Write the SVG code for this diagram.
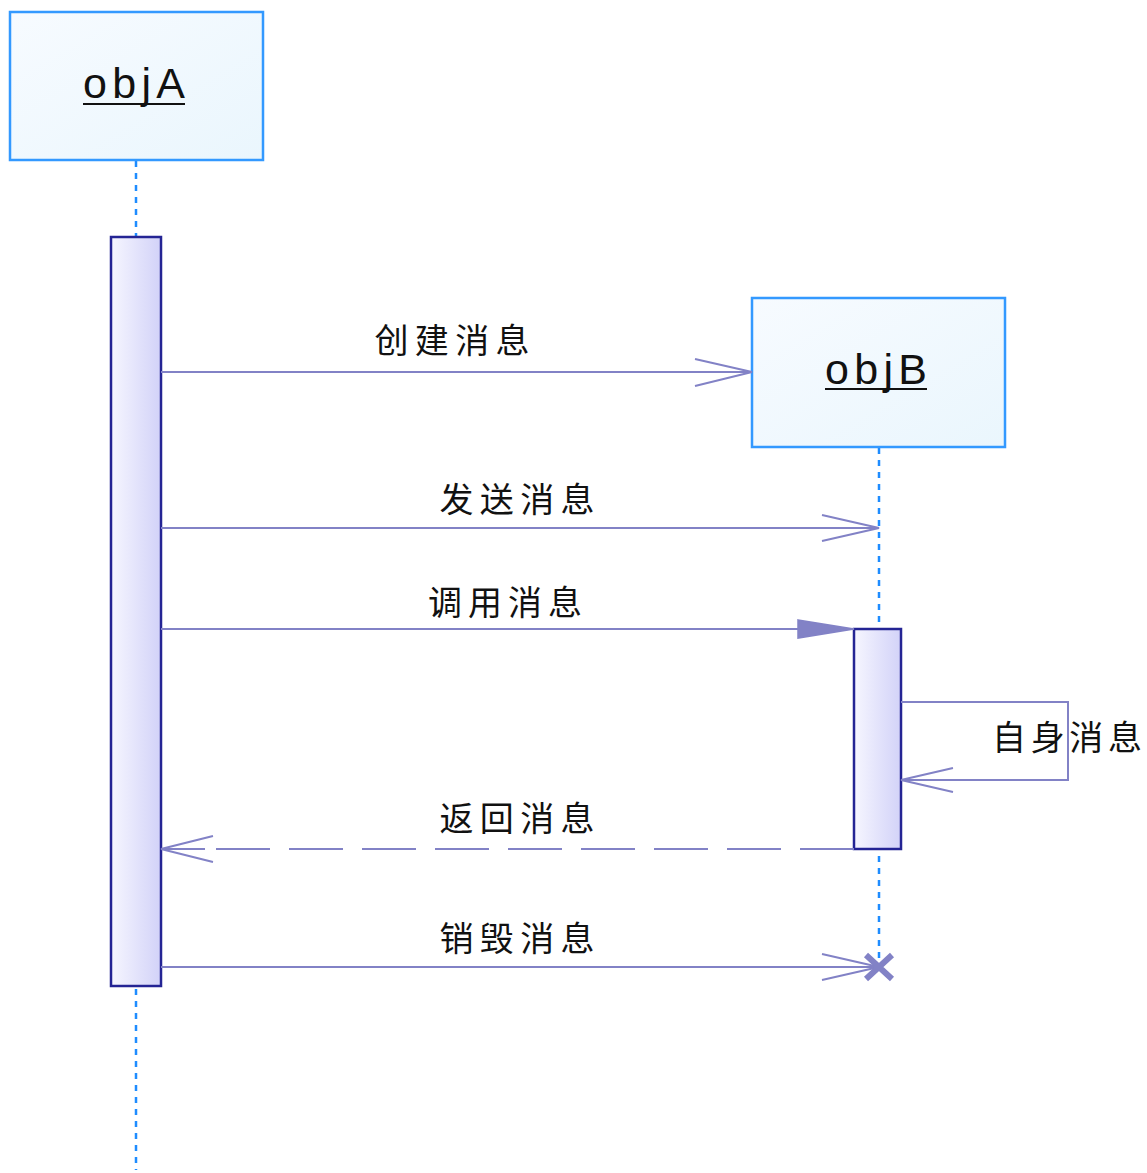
<svg xmlns="http://www.w3.org/2000/svg" width="1147" height="1173" viewBox="0 0 1147 1173">
<defs>
<linearGradient id="objFill" x1="0" y1="0" x2="1" y2="1">
<stop offset="0" stop-color="#f7fbff"/>
<stop offset="1" stop-color="#eaf6fd"/>
</linearGradient>
<linearGradient id="actFill" x1="0" y1="0" x2="1" y2="0">
<stop offset="0" stop-color="#f6f6ff"/>
<stop offset="1" stop-color="#d2d2f8"/>
</linearGradient>
<style>
.obj{fill:url(#objFill);stroke:#3399ff;stroke-width:2.5}
.act{fill:url(#actFill);stroke:#242494;stroke-width:2.5}
.life{stroke:#1e8cff;stroke-width:2.5;stroke-dasharray:6 6;fill:none}
.msg{stroke:#8282c6;stroke-width:2;fill:none}
.ret{stroke:#8282c6;stroke-width:2;fill:none;stroke-dasharray:54 19}
.head{stroke:#8282c6;stroke-width:2;fill:none}
.name{font-family:"Liberation Sans",Arial,sans-serif;font-size:43px;fill:#111}
.lbl{font-family:"Noto Sans CJK SC","Noto Sans",sans-serif;font-size:34px;fill:#111}
.uline{stroke:#111;stroke-width:2}
</style>
</defs>
<g id="lifelines">
<line class="life" x1="136" y1="161" x2="136" y2="1170"/>
<line class="life" x1="879" y1="448" x2="879" y2="966"/>
</g>
<g id="objA">
<rect class="obj" x="10" y="12" width="253" height="148"/>
<text class="name" x="134" y="98" text-anchor="middle" textLength="102" lengthAdjust="spacing">objA</text>
<line class="uline" x1="83" y1="104" x2="185" y2="104"/>
</g>
<g id="activationA">
<rect class="act" x="111" y="237" width="50" height="749"/>
</g>
<g id="objB">
<rect class="obj" x="752" y="298" width="253" height="149"/>
<text class="name" x="876" y="384" text-anchor="middle" textLength="102" lengthAdjust="spacing">objB</text>
<line class="uline" x1="825" y1="389" x2="927" y2="389"/>
</g>
<g id="activationB">
<rect class="act" x="854" y="629" width="47" height="220"/>
</g>
<g id="connectors">
<g id="create">
<line class="msg" x1="161" y1="372" x2="752" y2="372"/>
<polyline class="head" points="695,359 752,372 695,386"/>
<text class="lbl" x="452" y="353" text-anchor="middle" textLength="155" lengthAdjust="spacing">创建消息</text>
</g>
<g id="send">
<line class="msg" x1="161" y1="528" x2="879" y2="528"/>
<polyline class="head" points="822,515 879,528 822,541"/>
<text class="lbl" x="517" y="512" text-anchor="middle" textLength="155" lengthAdjust="spacing">发送消息</text>
</g>
<g id="call">
<line class="msg" x1="161" y1="629" x2="854" y2="629"/>
<polygon points="798,620 854,629 798,638" fill="#8282c6" stroke="#8282c6" stroke-width="1.5"/>
<text class="lbl" x="505" y="615" text-anchor="middle" textLength="154" lengthAdjust="spacing">调用消息</text>
</g>
<g id="self">
<polyline class="msg" points="901,702 1068,702 1068,780 901,780"/>
<polyline class="head" points="953,768 901,780 953,792"/>
<text class="lbl" x="1067" y="750" text-anchor="middle" textLength="150" lengthAdjust="spacing">自身消息</text>
</g>
<g id="return">
<line class="ret" x1="854" y1="849" x2="161" y2="849"/>
<polyline class="head" points="213,836 161,849 213,862"/>
<line class="msg" x1="161" y1="849" x2="205" y2="849"/>
<text class="lbl" x="517" y="831" text-anchor="middle" textLength="155" lengthAdjust="spacing">返回消息</text>
</g>
<g id="destroy">
<line class="msg" x1="161" y1="967" x2="879" y2="967"/>
<polyline class="head" points="822,954 879,967 822,980"/>
<path d="M866,955 L892,979 M892,955 L866,979" stroke="#8282c6" stroke-width="6" fill="none"/>
<text class="lbl" x="517" y="951" text-anchor="middle" textLength="155" lengthAdjust="spacing">销毁消息</text>
</g>
</g>
</svg>
